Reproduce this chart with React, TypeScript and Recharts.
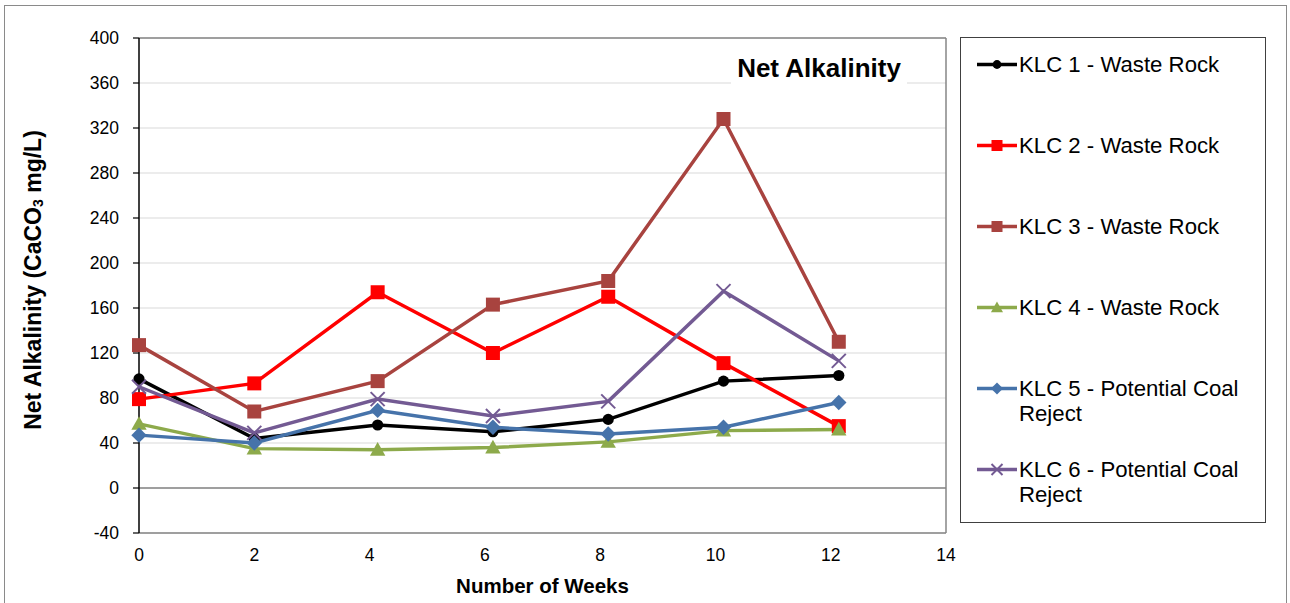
import React from 'react';
import { LineChart, Line, XAxis, YAxis, CartesianGrid, ReferenceLine, Legend } from 'recharts';

// sampling times (weeks) and net alkalinity values (CaCO3 mg/L)
const weeks = [0, 2, 4.14, 6.14, 8.14, 10.14, 12.14];
const klc1 = [97, 44, 56, 50, 61, 95, 100];
const klc2 = [79, 93, 174, 120, 170, 111, 55];
const klc3 = [127, 68, 95, 163, 184, 328, 130];
const klc4 = [57, 35, 34, 36, 41, 51, 52];
const klc5 = [47, 40, 69, 54, 48, 54, 76];
const klc6 = [90, 49, 79, 64, 77, 175, 113];

const seriesNames = [
  'KLC 1 - Waste Rock',
  'KLC 2 - Waste Rock',
  'KLC 3 - Waste Rock',
  'KLC 4 - Waste Rock',
  'KLC 5 - Potential Coal Reject',
  'KLC 6 - Potential Coal Reject',
];
const xTicks = [0, 2, 4, 6, 8, 10, 12, 14];
const yTicks = [-40, 0, 40, 80, 120, 160, 200, 240, 280, 320, 360, 400];

const seriesKeys = ['klc1', 'klc2', 'klc3', 'klc4', 'klc5', 'klc6'];
const seriesValues = [klc1, klc2, klc3, klc4, klc5, klc6];

const data = weeks.map((w, i) => {
  const row: any = { week: w };
  seriesKeys.forEach((k, j) => (row[k] = seriesValues[j][i]));
  return row;
});

type Shape = 'circle' | 'square' | 'triangle' | 'diamond' | 'x';

const styles: { color: string; shape: Shape }[] = [
  { color: '#000000', shape: 'circle' },
  { color: '#FF0000', shape: 'square' },
  { color: '#A8433F', shape: 'square' },
  { color: '#8DAA4B', shape: 'triangle' },
  { color: '#4673AA', shape: 'diamond' },
  { color: '#735A93', shape: 'x' },
];

const FONT = '"Liberation Sans", Arial, sans-serif';
const TICK_SIZE = 17.5;

const marker = (shape: Shape, color: string, cx: number, cy: number, s: number, key?: string) => {
  switch (shape) {
    case 'circle':
      return <circle key={key} cx={cx} cy={cy} r={s * 0.8} fill={color} />;
    case 'square':
      return <rect key={key} x={cx - s} y={cy - s} width={s * 2} height={s * 2} fill={color} />;
    case 'triangle':
      return (
        <polygon
          key={key}
          points={`${cx},${cy - s * 1.1} ${cx + s * 1.1},${cy + s * 0.85} ${cx - s * 1.1},${cy + s * 0.85}`}
          fill={color}
        />
      );
    case 'diamond':
      return (
        <polygon
          key={key}
          points={`${cx},${cy - s * 1.1} ${cx + s * 1.1},${cy} ${cx},${cy + s * 1.1} ${cx - s * 1.1},${cy}`}
          fill={color}
        />
      );
    default:
      return (
        <g key={key} stroke={color} strokeWidth={2}>
          <line x1={cx - s} y1={cy - s} x2={cx + s} y2={cy + s} />
          <line x1={cx - s} y1={cy + s} x2={cx + s} y2={cy - s} />
        </g>
      );
  }
};

const dotRenderer = (shape: Shape, color: string, name: string) => (props: any) =>
  marker(shape, color, props.cx, props.cy, 7, `${name}-${props.index}`);

const XTick = (props: any) => (
  <text x={props.x} y={props.y} dy="0.71em" textAnchor="middle" fontFamily={FONT} fontSize={TICK_SIZE} fill="#000">
    {props.payload.value}
  </text>
);

const YTick = (props: any) => (
  <text x={props.x} y={props.y} dy="0.355em" textAnchor="end" fontFamily={FONT} fontSize={TICK_SIZE} fill="#000">
    {props.payload.value}
  </text>
);

const LegendBox = () => (
  <div
    style={{
      width: 306,
      height: 486,
      border: '1.5px solid #404040',
      boxSizing: 'border-box',
      background: '#fff',
      paddingTop: 14,
      fontFamily: FONT,
    }}
  >
    {seriesNames.map((name, i) => (
      <div key={name} style={{ height: 81, display: 'flex', alignItems: 'flex-start' }}>
        <svg width={40} height={25} style={{ marginLeft: 16, flexShrink: 0 }}>
          <line x1={0} y1={12.5} x2={40} y2={12.5} stroke={styles[i].color} strokeWidth={3.5} />
          {marker(styles[i].shape, styles[i].color, 20, 12.5, 5.5)}
        </svg>
        <div style={{ marginLeft: 2, width: 235, fontSize: 22.2, lineHeight: '25px', color: '#000' }}>{name}</div>
      </div>
    ))}
  </div>
);

const YLabel = () => (
  <text
    x={33}
    y={280}
    transform="rotate(-90 33 280)"
    textAnchor="middle"
    dominantBaseline="central"
    fontFamily={FONT}
    fontWeight="bold"
    fontSize={23}
    fill="#000"
  >
    Net Alkalinity (CaCO
    <tspan fontSize={14} dy={5}>3</tspan>
    <tspan dy={-5}> mg/L)</tspan>
  </text>
);

const XLabel = (props: any) => {
  const vb = props.viewBox || {};
  return (
    <text
      x={vb.x + vb.width / 2}
      y={vb.y + 52}
      textAnchor="middle"
      dominantBaseline="central"
      fontFamily={FONT}
      fontWeight="bold"
      fontSize={20.5}
      fill="#000"
    >
      Number of Weeks
    </text>
  );
};

const App: React.FC = () => {
  return (
    <div style={{ position: 'fixed', left: 0, top: 0, width: 1290, height: 603, background: '#fff', overflow: 'hidden' }}>
      <div
        style={{
          position: 'absolute',
          left: 4,
          top: 5,
          width: 1283,
          height: 640,
          border: '1px solid #8a8a8a',
          boxSizing: 'border-box',
        }}
      />
      <div style={{ position: 'absolute', left: 0, top: 0 }}>
        <LineChart
          width={1290}
          height={603}
          data={data}
          margin={{ top: 38, right: 344, bottom: 40, left: 79 }}
          style={{ fontFamily: FONT }}
        >
          <CartesianGrid vertical={false} stroke="#d9d9d9" strokeWidth={1.2} />
          <XAxis
            dataKey="week"
            type="number"
            domain={[0, 14]}
            ticks={xTicks}
            interval={0}
            height={30}
            tickLine={false}
            tickSize={0}
            tickMargin={16}
            axisLine={{ stroke: '#868686', strokeWidth: 1.5 }}
            tick={XTick}
            label={XLabel}
          />
          <YAxis
            type="number"
            domain={[-40, 400]}
            ticks={yTicks}
            interval={0}
            width={60}
            tickSize={6}
            tickMargin={14}
            axisLine={{ stroke: '#000', strokeWidth: 1.5 }}
            tickLine={{ stroke: '#000', strokeWidth: 1.2 }}
            tick={YTick}
            label={YLabel}
          />
          <ReferenceLine y={400} stroke="#868686" strokeWidth={1.5} />
          <ReferenceLine x={14} stroke="#868686" strokeWidth={1.5} />
          <ReferenceLine y={0} stroke="#868686" strokeWidth={1.5} />
          <Legend
            layout="vertical"
            align="center"
            verticalAlign="middle"
            width={306}
            height={486}
            wrapperStyle={{ left: 960, top: 37, width: 306, height: 486 }}
            content={() => <LegendBox />}
          />
          {seriesKeys.map((key, i) => (
            <Line
              key={key}
              type="linear"
              dataKey={key}
              name={seriesNames[i]}
              stroke={styles[i].color}
              strokeWidth={3.5}
              dot={dotRenderer(styles[i].shape, styles[i].color, key)}
              activeDot={false}
              isAnimationActive={false}
            />
          ))}
        </LineChart>
      </div>
      <div
        style={{
          position: 'absolute',
          left: 731,
          top: 50,
          width: 176,
          height: 36,
          background: '#fff',
          fontFamily: FONT,
          fontWeight: 'bold',
          fontSize: 26,
          lineHeight: '36px',
          textAlign: 'center',
          color: '#000',
        }}
      >
        Net Alkalinity
      </div>
    </div>
  );
};

export default App;
